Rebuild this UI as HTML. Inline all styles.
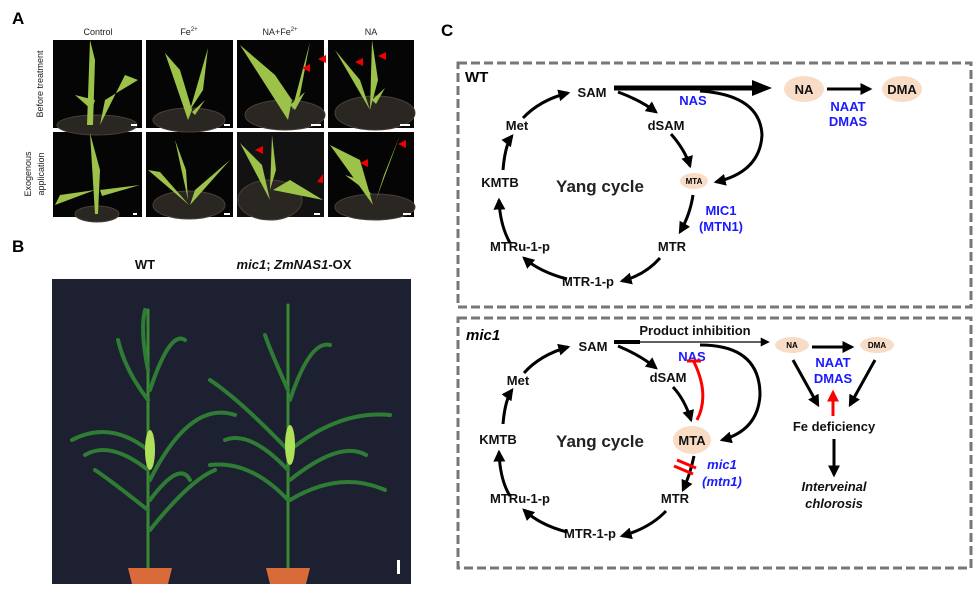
<!DOCTYPE html>
<html><head><meta charset="utf-8"><style>
html,body{margin:0;padding:0;background:#fff;}
svg{display:block;font-family:"Liberation Sans",Arial,sans-serif;}
.b{font-weight:bold;font-size:13px;fill:#111;}
.bl{font-weight:bold;font-size:13px;fill:#1a1aff;}
</style></head><body>
<svg width="980" height="597" viewBox="0 0 980 597" xmlns="http://www.w3.org/2000/svg">
<defs>
<marker id="ah" viewBox="0 0 10 10" refX="8" refY="5" markerWidth="4" markerHeight="4" orient="auto"><path d="M0,0 L10,5 L0,10 z" fill="#000"/></marker>
<marker id="ahr" viewBox="0 0 10 10" refX="8" refY="5" markerWidth="4" markerHeight="4" orient="auto"><path d="M0,0 L10,5 L0,10 z" fill="#f00"/></marker>
<marker id="ahs" viewBox="0 0 10 10" refX="8" refY="5" markerWidth="7" markerHeight="7" orient="auto"><path d="M0,0 L10,5 L0,10 z" fill="#000"/></marker>
</defs>

<!-- Panel A -->
<text x="12" y="24" font-size="17" font-weight="bold">A</text>
<g font-size="9" text-anchor="middle" fill="#222">
<text x="98" y="35">Control</text>
<text x="189" y="35">Fe<tspan font-size="6" dy="-4">2+</tspan></text>
<text x="280" y="35">NA+Fe<tspan font-size="6" dy="-4">2+</tspan></text>
<text x="371" y="35">NA</text>
<text transform="translate(43,84) rotate(-90)">Before treatment</text>
<text transform="translate(31,174) rotate(-90)">Exogenous</text>
<text transform="translate(44,174) rotate(-90)">application</text>
</g>
<g id="photosA">
<rect x="53" y="40" width="89" height="88" fill="#050505"/>
<rect x="146" y="40" width="87" height="88" fill="#050505"/>
<rect x="237" y="40" width="87" height="88" fill="#050505"/>
<rect x="328" y="40" width="86" height="88" fill="#050505"/>
<rect x="53" y="132" width="89" height="85" fill="#050505"/>
<rect x="146" y="132" width="87" height="85" fill="#050505"/>
<rect x="237" y="132" width="87" height="85" fill="#121212"/>
<rect x="328" y="132" width="86" height="85" fill="#050505"/>
<!-- pots -->
<g fill="#2a2622" stroke="#4a3f38" stroke-width="1">
<ellipse cx="97" cy="125" rx="40" ry="10"/><ellipse cx="189" cy="120" rx="36" ry="12"/><ellipse cx="285" cy="115" rx="40" ry="15"/><ellipse cx="375" cy="113" rx="40" ry="17"/>
<ellipse cx="97" cy="214" rx="22" ry="8"/><ellipse cx="189" cy="205" rx="36" ry="14"/><ellipse cx="270" cy="200" rx="32" ry="20"/><ellipse cx="375" cy="207" rx="40" ry="13"/>
</g>
<g fill="#9cc24a">
<path d="M87,125 L90,40 L95,60 L93,125z"/><path d="M100,125 L125,75 L138,80 L105,100z"/><path d="M95,100 L75,95 L92,110z"/>
<path d="M188,120 L165,53 L180,70 L192,110z"/><path d="M190,110 L208,48 L203,90z"/><path d="M192,112 L205,100 L195,115z"/>
<path d="M288,120 L240,45 L275,75 L292,100z"/><path d="M292,110 L310,42 L300,95z"/><path d="M290,105 L305,92 L295,110z"/>
<path d="M370,110 L335,50 L360,80z"/><path d="M370,110 L372,40 L378,80z"/><path d="M372,100 L385,88 L376,104z"/>
<path d="M95,214 L90,133 L100,170 L98,214z"/><path d="M95,190 L55,205 L60,195z"/><path d="M100,190 L140,185 L102,196z"/>
<path d="M189,205 L148,170 L160,172z"/><path d="M190,205 L230,160 L195,190z"/><path d="M188,200 L175,140 L186,170z"/>
<path d="M270,200 L240,143 L262,165z"/><path d="M273,190 L323,200 L290,180z"/><path d="M270,190 L272,135 L276,170z"/>
<path d="M373,205 L330,145 L360,160z"/><path d="M376,200 L400,135 L384,175z"/><path d="M372,195 L345,175 L360,180z"/>
</g>
<g fill="#e00">
<path d="M318,59 l8,-4 v8z"/><path d="M302,68 l8,-4 v8z"/><path d="M355,62 l8,-4 v8z"/><path d="M378,56 l8,-4 v8z"/>
<path d="M255,150 l8,-4 v8z"/><path d="M317,182 l6,-8 v9z"/><path d="M360,163 l8,-4 v8z"/><path d="M398,144 l8,-4 v8z"/>
</g>
<g fill="#fff"><rect x="131" y="124" width="6" height="2"/><rect x="224" y="124" width="6" height="2"/><rect x="311" y="124" width="10" height="2"/><rect x="400" y="124" width="10" height="2"/>
<rect x="133" y="213" width="4" height="2"/><rect x="224" y="213" width="6" height="2"/><rect x="314" y="213" width="6" height="2"/><rect x="403" y="213" width="8" height="2"/></g>
</g>

<!-- Panel B -->
<text x="12" y="252" font-size="17" font-weight="bold">B</text>
<text x="145" y="269" class="b" text-anchor="middle">WT</text>
<text x="294" y="269" class="b" text-anchor="middle"><tspan font-style="italic">mic1</tspan>; <tspan font-style="italic">ZmNAS1</tspan>-OX</text>
<rect x="52" y="279" width="359" height="305" fill="#1d2030"/>
<g stroke="#3a8a35" stroke-width="3" fill="none" stroke-linecap="round">
<path d="M148,572 L148,310"/><path d="M288,572 L288,305"/>
</g>
<g stroke="#2f7d34" stroke-width="4" fill="none" stroke-linecap="round">
<path d="M148,450 Q110,420 72,440"/><path d="M148,470 Q110,440 85,455"/><path d="M148,510 Q110,480 95,470"/><path d="M150,480 Q190,400 235,415"/><path d="M150,530 Q190,480 215,470"/><path d="M150,500 Q180,460 190,480"/><path d="M148,400 Q125,370 118,340"/><path d="M150,390 Q170,330 185,340"/><path d="M148,370 Q140,330 145,310"/>
<path d="M288,470 Q250,430 225,440"/><path d="M288,450 Q240,400 210,380"/><path d="M290,450 Q340,410 390,415"/><path d="M290,480 Q340,440 366,455"/><path d="M290,500 Q340,470 385,490"/><path d="M288,500 Q250,460 210,465"/><path d="M290,400 Q310,340 330,345"/><path d="M288,390 Q270,350 265,335"/>
</g>
<g fill="#aee05a"><ellipse cx="150" cy="450" rx="5" ry="20"/><ellipse cx="290" cy="445" rx="5" ry="20"/></g>
<g fill="#d96a3a"><path d="M128,568 h44 l-4,16 h-36z"/><path d="M266,568 h44 l-4,16 h-36z"/></g>
<rect x="397" y="560" width="3" height="14" fill="#fff"/>

<!-- Panel C -->
<text x="441" y="36" font-size="17" font-weight="bold">C</text>
<rect x="458" y="63" width="513" height="244" fill="none" stroke="#777" stroke-width="3" stroke-dasharray="9,4"/>
<rect x="458" y="318" width="513" height="250" fill="none" stroke="#777" stroke-width="3" stroke-dasharray="9,4"/>

<!-- top box -->
<g>
<text x="465" y="82" font-weight="bold" font-size="15">WT</text>
<ellipse cx="804" cy="89" rx="20" ry="13" fill="#f8dcc6"/>
<ellipse cx="902" cy="89" rx="20" ry="13" fill="#f8dcc6"/>
<ellipse cx="694" cy="181" rx="14" ry="8" fill="#f8dcc6"/>
<g class="b" text-anchor="middle">
<text x="592" y="97">SAM</text><text x="517" y="130">Met</text><text x="666" y="130">dSAM</text>
<text x="500" y="187">KMTB</text><text x="672" y="251">MTR</text><text x="520" y="251">MTRu-1-p</text><text x="588" y="286">MTR-1-p</text>
<text x="804" y="94">NA</text><text x="902" y="94">DMA</text>
</g>
<text x="694" y="184" text-anchor="middle" font-size="8" font-weight="bold">MTA</text>
<text x="600" y="192" text-anchor="middle" font-size="17" font-weight="bold" fill="#222">Yang cycle</text>
<g class="bl" text-anchor="middle">
<text x="693" y="105">NAS</text><text x="848" y="111">NAAT</text><text x="848" y="126">DMAS</text>
<text x="721" y="215">MIC1</text><text x="721" y="231">(MTN1)</text>
</g>
<g stroke="#000" stroke-width="3" fill="none" marker-end="url(#ah)">
<path d="M523,118 Q540,100 568,93"/>
<path d="M503,170 Q505,145 512,136"/>
<path d="M510,243 Q500,225 499,200"/>
<path d="M567,279 Q540,272 524,258"/>
<path d="M660,258 Q645,275 622,281"/>
<path d="M693,195 Q690,215 680,232"/>
<path d="M671,134 Q685,150 690,166"/>
<path d="M618,92 Q640,100 656,112"/>
<path d="M700,91 Q760,95 762,135 Q760,172 716,182"/>
<path d="M827,89 L870,89"/>
</g>
<path d="M614,88 L755,88" stroke="#000" stroke-width="5"/>
<path d="M752,80 L772,88 L752,96z" fill="#000"/>
</g>

<!-- bottom box -->
<g>
<text x="466" y="340" font-weight="bold" font-style="italic" font-size="15">mic1</text>
<text x="695" y="335" class="b" text-anchor="middle">Product inhibition</text>
<ellipse cx="792" cy="345" rx="17" ry="8" fill="#f8dcc6"/>
<ellipse cx="877" cy="345" rx="17" ry="8" fill="#f8dcc6"/>
<ellipse cx="692" cy="440" rx="19" ry="14" fill="#f8dcc6"/>
<g class="b" text-anchor="middle">
<text x="593" y="351">SAM</text><text x="518" y="385">Met</text><text x="668" y="382">dSAM</text>
<text x="498" y="444">KMTB</text><text x="675" y="503">MTR</text><text x="520" y="503">MTRu-1-p</text><text x="590" y="538">MTR-1-p</text>
<text x="692" y="445">MTA</text>
<text x="834" y="431">Fe deficiency</text>
<text x="834" y="491" font-style="italic">Interveinal</text><text x="834" y="508" font-style="italic">chlorosis</text>
</g>
<text x="792" y="348" text-anchor="middle" font-size="8" font-weight="bold">NA</text>
<text x="877" y="348" text-anchor="middle" font-size="8" font-weight="bold">DMA</text>
<text x="600" y="447" text-anchor="middle" font-size="17" font-weight="bold" fill="#222">Yang cycle</text>
<g class="bl" text-anchor="middle">
<text x="692" y="361">NAS</text><text x="833" y="367">NAAT</text><text x="833" y="383">DMAS</text>
<text x="722" y="469" font-style="italic">mic1</text><text x="722" y="486" font-style="italic">(mtn1)</text>
</g>
<g stroke="#000" stroke-width="3" fill="none" marker-end="url(#ah)">
<path d="M524,373 Q540,355 568,347"/>
<path d="M503,424 Q505,400 512,390"/>
<path d="M510,496 Q500,480 499,452"/>
<path d="M567,532 Q540,525 524,510"/>
<path d="M666,511 Q650,528 622,536"/>
<path d="M694,456 Q690,475 683,490"/>
<path d="M673,387 Q685,400 691,420"/>
<path d="M618,346 Q640,355 656,368"/>
<path d="M700,345 Q760,345 760,395 Q758,430 722,440"/>
<path d="M812,347 L852,347"/>
<path d="M793,360 L818,405"/>
<path d="M875,360 L850,405"/>
<path d="M834,439 L834,475"/>
</g>
<path d="M614,342 L640,342" stroke="#000" stroke-width="4"/>
<path d="M640,342 L768,342" stroke="#000" stroke-width="1.3" marker-end="url(#ahs)"/>
<path d="M833,416 L833,392" stroke="#f00" stroke-width="3" fill="none" marker-end="url(#ahr)"/>
<path d="M697,420 Q710,395 694,362" stroke="#f00" stroke-width="3" fill="none"/>
<path d="M687,361 L701,361" stroke="#f00" stroke-width="3"/>
<path d="M677,460 L696,468 M674,466 L693,474" stroke="#f00" stroke-width="3"/>
</g>
</svg>
</body></html>
